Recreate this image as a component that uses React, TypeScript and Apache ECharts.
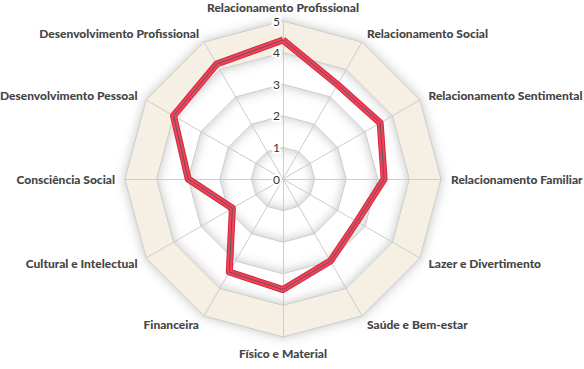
import React, { useEffect, useRef } from "react";
import * as echarts from "echarts";

// Indicators in ECharts order (counter-clockwise from the top)
const indicatorNames = [
  "Relacionamento Profissional",
  "Desenvolvimento Profissional",
  "Desenvolvimento Pessoal",
  "Consciência Social",
  "Cultural e Intelectual",
  "Financeira",
  "Físico e Material",
  "Saúde e Bem-estar",
  "Lazer e Divertimento",
  "Relacionamento Familiar",
  "Relacionamento Sentimental",
  "Relacionamento Social",
];
const scores = [4.4, 4.2, 4.0, 3.0, 1.85, 3.4, 3.5, 3.0, 2.7, 3.2, 3.55, 3.45];
const scaleMin = 0;
const scaleMax = 5;

export default function App() {
  const ref = useRef<HTMLDivElement>(null);
  useEffect(() => {
    document.body.style.margin = "0";
    const chart = echarts.init(ref.current!, null, { renderer: "svg" });
    chart.setOption({
      animation: false,
      backgroundColor: "#ffffff",
      radar: {
        center: [283, 179],
        radius: 158,
        startAngle: 90,
        splitNumber: 5,
        shape: "polygon",
        nameGap: 10,
        axisName: {
          color: "#454545",
          fontFamily: "Lato",
          fontWeight: 900,
          fontSize: 12,
        },
        indicator: indicatorNames.map((name, i) => ({
          name,
          min: scaleMin,
          max: scaleMax,
          ...(i === 0
            ? {
                nameGap: 6,
                axisLabel: {
                  show: true,
                  color: "#333",
                  fontFamily: "Lato",
                  fontSize: 12,
                  margin: 3,
                  textBorderColor: "#fff",
                  textBorderWidth: 4,
                },
              }
            : {}),
        })),
        axisLine: { lineStyle: { color: "#cccccc", width: 1 } },
        splitLine: { lineStyle: { color: "#cccccc", width: 1 } },
        splitArea: {
          show: true,
          areaStyle: {
            color: ["#ffffff", "#ffffff", "#ffffff", "#ffffff", "#f5f0e3"],
            shadowColor: "rgba(0,0,0,0.25)",
            shadowBlur: 12,
          },
        },
      },
      series: [
        {
          type: "radar",
          symbol: "none",
          silent: true,
          data: [
            { value: scores, lineStyle: { width: 7, color: "#d02b40" } },
            { value: scores, lineStyle: { width: 5, color: "#f5405a" } },
            { value: scores, lineStyle: { width: 1, color: "#5a5a5a" } },
          ],
        },
      ],
    });
    return () => chart.dispose();
  }, []);
  return <div ref={ref} style={{ width: 584, height: 369 }} />;
}
